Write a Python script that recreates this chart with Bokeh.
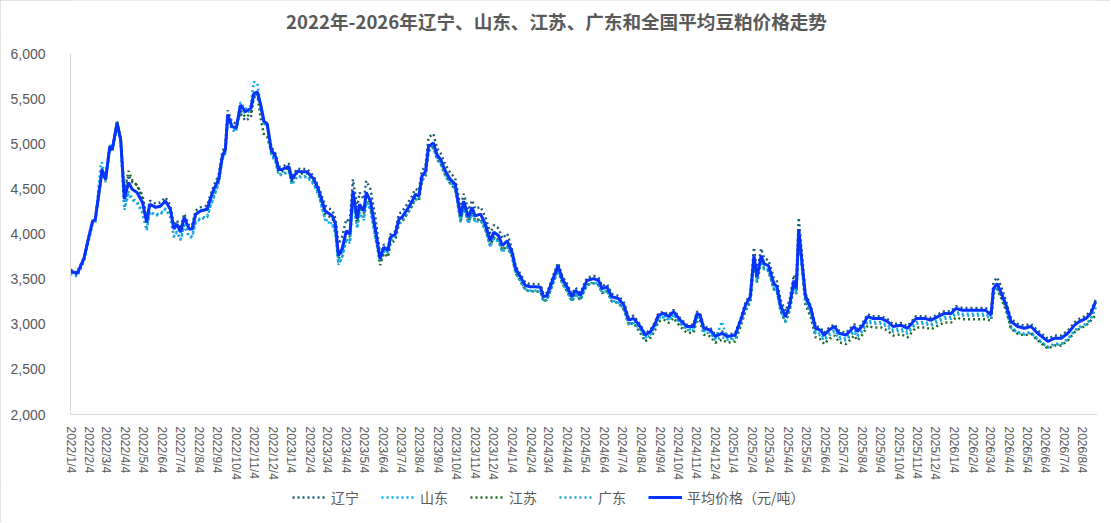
from datetime import datetime
import pandas as pd
from bokeh.plotting import figure
from bokeh.layouts import column
from bokeh.models import (Range1d, Legend, LegendItem, FixedTicker, SingleIntervalTicker,
                          NumeralTickFormatter, CustomJSTickFormatter, Label)
from bokeh.embed import file_html
from bokeh.resources import INLINE

TITLE = "2022年-2026年辽宁、山东、江苏、广东和全国平均豆粕价格走势"
SERIES_NAMES = ["辽宁", "山东", "江苏", "广东", "平均价格（元/吨）"]

DATES = [
    "2022-01-04", "2022-01-15", "2022-01-26", "2022-02-09", "2022-02-14", "2022-02-23", "2022-02-25", "2022-03-03",
    "2022-03-10", "2022-03-14", "2022-03-22", "2022-03-28", "2022-04-03", "2022-04-10", "2022-04-16", "2022-04-24",
    "2022-05-03", "2022-05-10", "2022-05-15", "2022-05-25", "2022-06-02", "2022-06-10", "2022-06-18", "2022-06-24",
    "2022-06-29", "2022-07-05", "2022-07-11", "2022-07-19", "2022-07-24", "2022-07-30", "2022-08-07", "2022-08-18",
    "2022-08-23", "2022-08-29", "2022-09-06", "2022-09-12", "2022-09-17", "2022-09-21", "2022-09-28", "2022-10-05",
    "2022-10-12", "2022-10-20", "2022-10-29", "2022-11-03", "2022-11-09", "2022-11-14", "2022-11-20", "2022-11-25",
    "2022-12-02", "2022-12-09", "2022-12-14", "2022-12-20", "2022-12-31", "2023-01-05", "2023-01-14", "2023-01-19",
    "2023-01-30", "2023-02-10", "2023-02-18", "2023-03-01", "2023-03-13", "2023-03-18", "2023-03-23", "2023-03-29",
    "2023-04-05", "2023-04-11", "2023-04-16", "2023-04-23", "2023-04-27", "2023-05-04", "2023-05-08", "2023-05-15",
    "2023-05-23", "2023-05-31", "2023-06-06", "2023-06-13", "2023-06-17", "2023-06-25", "2023-07-01", "2023-07-06",
    "2023-07-15", "2023-07-23", "2023-07-28", "2023-08-03", "2023-08-08", "2023-08-14", "2023-08-19", "2023-08-27",
    "2023-09-02", "2023-09-08", "2023-09-16", "2023-09-24", "2023-10-02", "2023-10-11", "2023-10-16", "2023-10-24",
    "2023-10-30", "2023-11-04", "2023-11-13", "2023-11-21", "2023-11-29", "2023-12-05", "2023-12-13", "2023-12-19",
    "2023-12-27", "2024-01-04", "2024-01-10", "2024-01-18", "2024-01-26", "2024-02-03", "2024-02-12", "2024-02-20",
    "2024-02-25", "2024-03-02", "2024-03-10", "2024-03-20", "2024-03-27", "2024-04-04", "2024-04-12", "2024-04-18",
    "2024-04-26", "2024-05-07", "2024-05-18", "2024-05-26", "2024-06-01", "2024-06-09", "2024-06-17", "2024-06-28",
    "2024-07-07", "2024-07-15", "2024-07-23", "2024-08-03", "2024-08-11", "2024-08-20", "2024-08-28", "2024-09-02",
    "2024-09-11", "2024-09-19", "2024-09-27", "2024-10-08", "2024-10-19", "2024-10-30", "2024-11-05", "2024-11-10",
    "2024-11-16", "2024-11-27", "2024-12-05", "2024-12-16", "2024-12-25", "2025-01-07", "2025-01-16", "2025-01-24",
    "2025-02-01", "2025-02-07", "2025-02-12", "2025-02-19", "2025-02-24", "2025-03-03", "2025-03-12", "2025-03-17",
    "2025-03-23", "2025-03-31", "2025-04-07", "2025-04-14", "2025-04-18", "2025-04-22", "2025-04-28", "2025-05-03",
    "2025-05-12", "2025-05-20", "2025-05-28", "2025-06-03", "2025-06-11", "2025-06-20", "2025-06-28", "2025-07-09",
    "2025-07-23", "2025-07-28", "2025-08-06", "2025-08-14", "2025-08-22", "2025-09-05", "2025-09-16", "2025-09-25",
    "2025-10-08", "2025-10-19", "2025-11-02", "2025-11-16", "2025-11-27", "2025-12-08", "2025-12-19", "2025-12-30",
    "2026-01-07", "2026-01-18", "2026-01-29", "2026-02-12", "2026-02-25", "2026-03-06", "2026-03-10", "2026-03-16",
    "2026-03-22", "2026-03-31", "2026-04-08", "2026-04-19", "2026-04-30", "2026-05-11", "2026-05-22", "2026-06-08",
    "2026-06-19", "2026-06-30", "2026-07-11", "2026-07-22", "2026-07-30", "2026-08-10", "2026-08-18", "2026-08-26",
]

AVERAGE = [
    3590, 3560, 3725, 4130, 4165, 4600, 4715, 4605, 4970, 4935, 5230, 5045, 4385, 4570, 4495, 4460,
    4350, 4130, 4330, 4295, 4310, 4365, 4275, 4055, 4110, 4020, 4185, 4055, 4055, 4220, 4255, 4275,
    4385, 4495, 4605, 4860, 4935, 5320, 5190, 5175, 5430, 5355, 5390, 5555, 5575, 5445, 5245, 5225,
    4935, 4860, 4715, 4715, 4750, 4605, 4695, 4690, 4690, 4610, 4495, 4255, 4200, 4110, 3760, 3835,
    4035, 4000, 4475, 4165, 4330, 4255, 4460, 4365, 4055, 3725, 3855, 3815, 3965, 4000, 4165, 4185,
    4275, 4365, 4440, 4420, 4640, 4695, 4970, 5010, 4880, 4825, 4695, 4605, 4550, 4200, 4365, 4185,
    4295, 4200, 4220, 4110, 3925, 4020, 3980, 3870, 3925, 3800, 3615, 3525, 3430, 3415, 3415, 3410,
    3305, 3320, 3470, 3650, 3505, 3415, 3305, 3375, 3320, 3485, 3505, 3485, 3395, 3415, 3305, 3285,
    3210, 3045, 3065, 2975, 2880, 2920, 3010, 3100, 3120, 3085, 3140, 3045, 2975, 2975, 3120, 3100,
    2955, 2935, 2865, 2900, 2865, 2880, 3045, 3210, 3305, 3760, 3525, 3760, 3670, 3650, 3450, 3415,
    3210, 3085, 3210, 3485, 3395, 4055, 3650, 3320, 3175, 2955, 2935, 2880, 2935, 2975, 2900, 2880,
    2975, 2920, 2990, 3085, 3065, 3065, 3030, 2975, 2990, 2955, 3065, 3065, 3045, 3085, 3120, 3120,
    3175, 3155, 3155, 3155, 3155, 3100, 3395, 3450, 3360, 3210, 3030, 2975, 2955, 2975, 2900, 2810,
    2845, 2845, 2900, 2990, 3030, 3065, 3120, 3250,
]

LIAONING = [
    3605, 3575, 3740, 4145, 4180, 4615, 4730, 4620, 4985, 4950, 5245, 5060, 4465, 4650, 4575, 4540,
    4430, 4170, 4370, 4335, 4350, 4405, 4315, 4095, 4150, 4060, 4225, 4095, 4095, 4260, 4295, 4315,
    4425, 4535, 4655, 4910, 4985, 5370, 5240, 5225, 5340, 5255, 5290, 5515, 5535, 5445, 5245, 5225,
    4965, 4890, 4745, 4745, 4780, 4635, 4725, 4720, 4720, 4640, 4525, 4315, 4260, 4170, 3890, 3965,
    4165, 4130, 4605, 4295, 4460, 4385, 4590, 4495, 4185, 3755, 3885, 3845, 3995, 4030, 4225, 4245,
    4335, 4425, 4500, 4480, 4700, 4755, 5070, 5110, 4950, 4895, 4765, 4675, 4620, 4280, 4445, 4265,
    4375, 4280, 4300, 4190, 4005, 4100, 4060, 3950, 4005, 3830, 3645, 3555, 3460, 3445, 3445, 3440,
    3335, 3350, 3500, 3680, 3535, 3445, 3335, 3405, 3350, 3515, 3535, 3515, 3425, 3445, 3335, 3315,
    3240, 3075, 3095, 2995, 2900, 2940, 3030, 3120, 3140, 3105, 3160, 3065, 2995, 2995, 3140, 3120,
    2975, 2955, 2885, 2920, 2885, 2900, 3065, 3240, 3335, 3850, 3575, 3840, 3730, 3710, 3510, 3475,
    3270, 3145, 3270, 3545, 3455, 4180, 3720, 3345, 3200, 2980, 2960, 2905, 2960, 3000, 2925, 2905,
    3000, 2945, 3015, 3110, 3090, 3090, 3055, 3000, 3015, 2980, 3090, 3090, 3070, 3110, 3145, 3145,
    3200, 3180, 3180, 3180, 3180, 3130, 3465, 3520, 3430, 3250, 3060, 3005, 2985, 3005, 2930, 2840,
    2875, 2875, 2930, 3020, 3060, 3095, 3150, 3270,
]

SHANDONG = [
    3560, 3530, 3695, 4100, 4135, 4770, 4795, 4595, 4990, 4935, 5230, 5045, 4265, 4450, 4375, 4340,
    4230, 4050, 4250, 4215, 4230, 4285, 4195, 3975, 4030, 3940, 4105, 3975, 3975, 4140, 4175, 4195,
    4305, 4415, 4575, 4830, 4905, 5290, 5160, 5145, 5460, 5385, 5420, 5685, 5675, 5425, 5225, 5205,
    4885, 4810, 4665, 4665, 4700, 4555, 4645, 4640, 4640, 4560, 4445, 4155, 4100, 4010, 3660, 3735,
    3935, 3900, 4375, 4065, 4230, 4155, 4360, 4265, 3955, 3685, 3815, 3775, 3925, 3960, 4135, 4155,
    4245, 4335, 4410, 4390, 4610, 4665, 4940, 4980, 4850, 4795, 4665, 4575, 4520, 4140, 4305, 4125,
    4235, 4140, 4160, 4050, 3865, 3960, 3920, 3810, 3865, 3760, 3575, 3485, 3390, 3375, 3375, 3370,
    3265, 3280, 3430, 3610, 3465, 3375, 3265, 3335, 3280, 3445, 3465, 3445, 3355, 3375, 3265, 3245,
    3170, 3005, 3025, 2945, 2850, 2890, 2980, 3070, 3090, 3055, 3110, 3015, 2945, 2945, 3090, 3070,
    2925, 2905, 2835, 3030, 2835, 2850, 3015, 3160, 3255, 3710, 3475, 3710, 3620, 3600, 3400, 3365,
    3160, 3035, 3160, 3435, 3345, 4005, 3600, 3280, 3135, 2915, 2895, 2840, 2895, 2935, 2860, 2840,
    2935, 2880, 2950, 3045, 3025, 3025, 2990, 2935, 2950, 2915, 3025, 3025, 3005, 3045, 3080, 3080,
    3135, 3115, 3115, 3115, 3115, 3070, 3365, 3420, 3330, 3180, 2970, 2915, 2895, 2915, 2840, 2750,
    2785, 2785, 2840, 2930, 2970, 3005, 3060, 3190,
]

JIANGSU = [
    3580, 3550, 3715, 4120, 4155, 4590, 4705, 4595, 4960, 4925, 5250, 5045, 4465, 4700, 4595, 4540,
    4390, 4130, 4330, 4295, 4310, 4365, 4275, 4055, 4110, 4020, 4185, 4055, 4055, 4220, 4255, 4275,
    4385, 4495, 4605, 4860, 4935, 5320, 5190, 5175, 5370, 5295, 5330, 5525, 5545, 5295, 5095, 5075,
    4915, 4840, 4695, 4695, 4730, 4585, 4675, 4670, 4670, 4590, 4475, 4225, 4170, 4080, 3730, 3805,
    4005, 3970, 4445, 4135, 4300, 4225, 4430, 4335, 4025, 3655, 3785, 3745, 3895, 3930, 4115, 4135,
    4225, 4315, 4390, 4370, 4590, 4645, 4920, 4960, 4830, 4775, 4645, 4555, 4500, 4150, 4315, 4135,
    4245, 4150, 4170, 4060, 3875, 3970, 3930, 3820, 3875, 3750, 3565, 3475, 3380, 3365, 3365, 3360,
    3255, 3270, 3420, 3600, 3455, 3365, 3255, 3325, 3270, 3435, 3455, 3435, 3345, 3365, 3255, 3235,
    3160, 2995, 3015, 2905, 2810, 2850, 2940, 3030, 3050, 3015, 3070, 2975, 2905, 2905, 3050, 3030,
    2885, 2865, 2795, 2830, 2795, 2810, 2975, 3150, 3245, 3700, 3465, 3700, 3610, 3590, 3390, 3355,
    3150, 3025, 3150, 3425, 3335, 3995, 3590, 3220, 3075, 2855, 2835, 2780, 2835, 2875, 2800, 2780,
    2875, 2820, 2890, 2985, 2965, 2965, 2930, 2875, 2890, 2855, 2965, 2965, 2945, 2985, 3020, 3020,
    3075, 3055, 3055, 3055, 3055, 3040, 3335, 3390, 3300, 3150, 2950, 2895, 2875, 2895, 2820, 2730,
    2765, 2765, 2820, 2910, 2950, 2985, 3040, 3100,
]

GUANGDONG = [
    3560, 3530, 3695, 4100, 4135, 4570, 4685, 4575, 4940, 4905, 5200, 5015, 4285, 4470, 4395, 4360,
    4250, 4040, 4240, 4205, 4220, 4275, 4185, 3965, 4020, 3930, 4095, 3965, 3965, 4130, 4165, 4185,
    4295, 4405, 4565, 4820, 4895, 5280, 5150, 5135, 5410, 5335, 5370, 5535, 5555, 5425, 5225, 5205,
    4875, 4800, 4655, 4655, 4690, 4545, 4635, 4630, 4630, 4550, 4435, 4165, 4110, 4020, 3670, 3745,
    3945, 3910, 4385, 4075, 4240, 4165, 4370, 4275, 3965, 3705, 3835, 3795, 3945, 3980, 4115, 4135,
    4225, 4315, 4390, 4370, 4590, 4645, 4920, 4960, 4830, 4775, 4645, 4555, 4500, 4130, 4295, 4115,
    4225, 4130, 4150, 4040, 3855, 3950, 3910, 3800, 3855, 3750, 3565, 3475, 3380, 3365, 3365, 3360,
    3255, 3270, 3420, 3600, 3455, 3365, 3255, 3325, 3270, 3435, 3455, 3435, 3345, 3365, 3255, 3235,
    3160, 2995, 3015, 2935, 2840, 2880, 2970, 3060, 3080, 3045, 3100, 3005, 2935, 2935, 3080, 3060,
    2915, 2895, 2825, 2860, 2825, 2840, 3005, 3150, 3245, 3700, 3465, 3700, 3610, 3590, 3390, 3355,
    3150, 3025, 3150, 3425, 3335, 3995, 3590, 3260, 3115, 2895, 2875, 2820, 2875, 2915, 2840, 2820,
    2915, 2860, 2930, 3025, 3005, 3005, 2970, 2915, 2930, 2895, 3005, 3005, 2985, 3025, 3060, 3060,
    3115, 3095, 3095, 3095, 3095, 3060, 3355, 3410, 3320, 3170, 2960, 2905, 2885, 2905, 2830, 2740,
    2775, 2775, 2830, 2920, 2960, 2995, 3050, 3180,
]

# monthly tick dates (the 4th of each month)
TICK_DATES = pd.date_range("2022-01-01", "2026-08-01", freq="MS") + pd.Timedelta(days=3)

dates = pd.to_datetime(DATES)

GREY = "#595959"
CJK = "Noto Sans CJK SC"
W = 1110
H_TITLE, H_MAIN, H_LEG = 35, 447, 40


def strip(height):
    f = figure(width=W, height=height, x_range=Range1d(0, 1), y_range=Range1d(0, 1),
               output_backend="svg", toolbar_location=None,
               x_axis_location=None, y_axis_location=None, min_border=0)
    f.outline_line_color = None
    f.xgrid.visible = False
    f.ygrid.visible = False
    return f


# title strip (its frame is aligned with the main chart's frame by the column layout)
tt = strip(H_TITLE)
tt.add_layout(Label(x=486, y=15, x_units="screen", y_units="screen", text=TITLE,
                    text_align="center", text_baseline="middle",
                    text_font=CJK, text_font_size="18.6px", text_font_style="bold",
                    text_color=GREY))

# main chart
p = figure(width=W, height=H_MAIN, x_axis_type="datetime",
           x_range=Range1d(datetime(2022, 1, 4), datetime(2026, 8, 29)),
           y_range=Range1d(2000, 6000),
           output_backend="svg", toolbar_location=None,
           min_border_left=70, min_border_right=13, min_border_top=18, min_border_bottom=65)
p.outline_line_color = None
p.xgrid.visible = False
p.ygrid.visible = False

p.yaxis.ticker = SingleIntervalTicker(interval=500)
p.yaxis.formatter = NumeralTickFormatter(format="0,0")
p.yaxis.axis_line_color = "#D9D9D9"
p.yaxis.major_tick_line_color = None
p.yaxis.minor_tick_line_color = None
p.yaxis.major_label_text_color = GREY
p.yaxis.major_label_text_font = "Liberation Sans"
p.yaxis.major_label_text_font_size = "14px"
p.yaxis.major_label_standoff = 19

p.xaxis.ticker = FixedTicker(ticks=[t.value / 1e6 for t in TICK_DATES])
p.xaxis.formatter = CustomJSTickFormatter(code="""
const d = new Date(tick);
return d.getUTCFullYear() + '/' + (d.getUTCMonth() + 1) + '/' + d.getUTCDate();
""")
p.xaxis.major_label_orientation = "vertical"
p.xaxis.axis_line_color = "#D9D9D9"
p.xaxis.major_tick_line_color = None
p.xaxis.minor_tick_line_color = None
p.xaxis.major_label_text_color = GREY
p.xaxis.major_label_text_font = "Liberation Sans"
p.xaxis.major_label_text_font_size = "12px"
p.xaxis.major_label_standoff = 6

SERIES = [LIAONING, SHANDONG, JIANGSU, GUANGDONG, AVERAGE]
COLORS = ["#1F5C7A", "#00B0F0", "#1C6B22", "#21A0D6", "#0533FF"]
DOT = dict(line_width=2.5, line_dash="2 3")
AVG = dict(line_width=3)

for i, vals in enumerate(SERIES):
    p.line(dates, vals, line_color=COLORS[i], **(DOT if i < 4 else AVG))

# legend strip below the axis labels (same series, drawn outside its visible range)
lg = strip(H_LEG)
items = []
for i, (vals, name) in enumerate(zip(SERIES, SERIES_NAMES)):
    r = lg.line(dates, vals, line_color=COLORS[i], **(DOT if i < 4 else AVG))
    items.append(LegendItem(label=name, renderers=[r]))
legend = Legend(items=items, orientation="horizontal", location=(222, 15),
                glyph_width=34, glyph_height=14, label_standoff=5, spacing=22,
                label_text_font=CJK, label_text_font_size="14px", label_text_color=GREY,
                border_line_color=None, background_fill_alpha=0, padding=4, margin=0)
lg.add_layout(legend, "center")

layout = column(tt, p, lg, spacing=0,
                styles={"outline": "1px solid #D9D9D9", "outline-offset": "-1px"})
open("out.html", "w").write(file_html(layout, INLINE))
